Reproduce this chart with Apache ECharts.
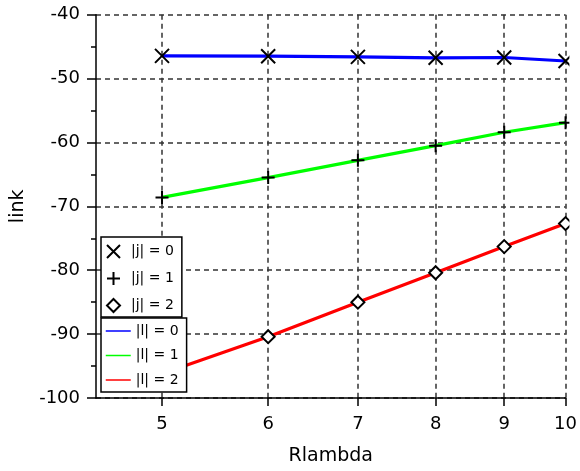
<!DOCTYPE html>
<html><head><meta charset="utf-8">
<script src="https://cdn.jsdelivr.net/npm/echarts@6/dist/echarts.min.js"></script>
<style>html,body{margin:0;padding:0;background:#fff}#c{width:580px;height:471px}</style>
</head><body><div id="c"></div>
<script>
const rlambda = [5, 6, 7, 8, 9, 10];
const link_l0 = [-46.45, -46.5, -46.6, -46.75, -46.7, -47.25];
const link_l1 = [-68.6, -65.5, -62.8, -60.5, -58.4, -56.9];
const link_l2 = [-96.2, -90.4, -85.0, -80.4, -76.3, -72.7];
const xTickValues = [5, 6, 7, 8, 9, 10];
const yMin = -100, yMax = -40, yStep = 10;
const lineNames = ['|l| = 0', '|l| = 1', '|l| = 2'];
const markerNames = ['|j| = 0', '|j| = 1', '|j| = 2'];
const lineColors = ['#0000ff', '#00ff00', '#ff0000'];

const FONT = 'DejaVu Sans';
const pairs = v => rlambda.map((x, i) => [x, v[i]]);
const allVals = [link_l0, link_l1, link_l2];

const symX = 'path://M0,0L10,10M10,0L0,10';
const symPlus = 'path://M5,0L5,10M0,5L10,5';
const symDiamond = 'path://M5,0L10,5L5,10L0,5Z';
const markerDefs = [
  { symbol: symX, size: 14, fill: 'rgba(0,0,0,0)' },
  { symbol: symPlus, size: 13, fill: 'rgba(0,0,0,0)' },
  { symbol: symDiamond, size: 13, fill: '#ffffff' }
];

const series = [];
allVals.forEach((v, i) => {
  series.push({
    name: lineNames[i], type: 'line', data: pairs(v), symbol: 'none', showSymbol: false,
    lineStyle: { color: lineColors[i], width: 3.2 }, itemStyle: { color: lineColors[i] },
    z: 2, animation: false
  });
});
allVals.forEach((v, i) => {
  const m = markerDefs[i];
  series.push({
    name: markerNames[i], type: 'scatter', data: pairs(v), symbol: m.symbol, symbolSize: m.size,
    symbolKeepAspect: true,
    itemStyle: { color: m.fill, borderColor: '#000', borderWidth: 2, opacity: 1 },
    z: 3, animation: false, clip: true
  });
});

const chart = echarts.init(document.getElementById('c'), null, { renderer: 'canvas' });
chart.setOption({
  animation: false,
  backgroundColor: '#fff',
  textStyle: { fontFamily: FONT },
  grid: { left: 96, right: 11.3, top: 14.7, bottom: 72.3, containLabel: false },
  xAxis: {
    type: 'log', min: 4.464, max: 10,
    name: 'Rlambda', nameLocation: 'middle', nameGap: 49,
    nameTextStyle: { fontSize: 19, color: '#000', fontFamily: FONT },
    axisLine: { show: true, onZero: false, lineStyle: { color: '#000', width: 1.5 } },
    axisTick: { show: true, inside: false, length: 8, lineStyle: { color: '#000', width: 1.5 }, customValues: xTickValues },
    axisLabel: { fontSize: 18, color: '#000', margin: 17, fontFamily: FONT, customValues: xTickValues, formatter: v => String(Math.round(v)) },
    splitLine: { show: true, lineStyle: { color: '#333', type: [5, 4], width: 1.5 } },
    minorTick: { show: false }
  },
  yAxis: {
    type: 'value', min: yMin, max: yMax, interval: yStep,
    name: 'link', nameLocation: 'middle', nameGap: 68,
    nameTextStyle: { fontSize: 19, color: '#000', fontFamily: FONT },
    axisLine: { show: true, lineStyle: { color: '#000', width: 1.5 } },
    axisTick: { show: true, inside: false, length: 9, lineStyle: { color: '#000', width: 1.5 } },
    minorTick: { show: true, splitNumber: 2, length: 5, lineStyle: { color: '#000', width: 1.5 } },
    axisLabel: { fontSize: 18, color: '#000', margin: 16, fontFamily: FONT },
    splitLine: { show: true, lineStyle: { color: '#333', type: [5, 4], width: 1.5 } }
  },
  legend: [
    {
      data: markerNames, orient: 'vertical', left: 101, top: 237,
      itemWidth: 25, itemHeight: 13, itemGap: 12, padding: [7, 8, 4, 5],
      backgroundColor: '#fff', borderColor: '#000', borderWidth: 1.5, borderRadius: 0,
      textStyle: { fontSize: 14, color: '#000', fontFamily: FONT },
      selectedMode: false, z: 10
    },
    {
      data: lineNames, orient: 'vertical', left: 101, top: 318,
      itemWidth: 25, itemHeight: 14, itemGap: 10.5, padding: [6, 8, 5, 4],
      backgroundColor: '#fff', borderColor: '#000', borderWidth: 1.5, borderRadius: 0,
      lineStyle: { width: 1.5 },
      itemStyle: { color: 'rgba(0,0,0,0)', borderWidth: 0, opacity: 0 },
      textStyle: { fontSize: 14, color: '#000', fontFamily: FONT },
      selectedMode: false, z: 10
    }
  ],
  graphic: [
    { type: 'rect', left: 569.4, top: 0, z: 100, shape: { width: 20, height: 397.8 }, style: { fill: '#ffffff' }, silent: true }
  ],
  series: series
});
</script></body></html>
